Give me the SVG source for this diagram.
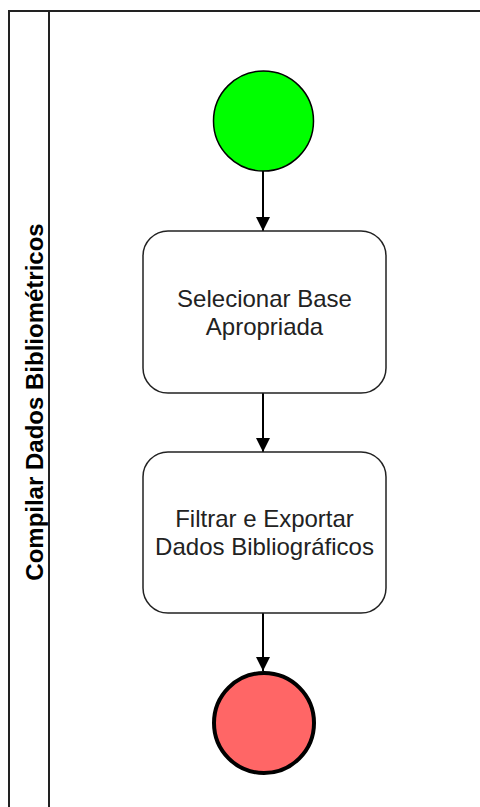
<svg xmlns="http://www.w3.org/2000/svg" width="480" height="807" viewBox="0 0 480 807">
  <defs>
    <marker id="arrow" viewBox="0 0 14 14" refX="14" refY="7" markerWidth="14" markerHeight="14" markerUnits="userSpaceOnUse" orient="auto">
      <path d="M0,0 L14,7 L0,14 Z" fill="#000"/>
    </marker>
  </defs>
  <style>
    .lane { fill: #fff; stroke: #222; stroke-width: 2; }
    .lane-title { font-family: "Liberation Sans", Arial, sans-serif; font-size: 24px; font-weight: bold; fill: #000; }
    .task { fill: #fff; stroke: #222; stroke-width: 1.5; }
    .label { font-family: "Liberation Sans", Arial, sans-serif; font-size: 24px; fill: #222; text-anchor: middle; }
    .flow { fill: none; stroke: #000; stroke-width: 2; marker-end: url(#arrow); }
  </style>
  <rect width="480" height="807" fill="#fff"/>

  <!-- Pool / lane -->
  <g id="lane">
    <rect class="lane" x="9" y="11" width="490" height="820"/>
    <line x1="49" y1="11" x2="49" y2="831" stroke="#222" stroke-width="2"/>
    <text class="lane-title" transform="translate(43,402) rotate(-90)" text-anchor="middle">Compilar Dados Bibliométricos</text>
  </g>

  <!-- Connectors -->
  <g id="connectors">
    <line class="flow" x1="263" y1="171" x2="263" y2="231"/>
    <line class="flow" x1="263" y1="393" x2="263" y2="452"/>
    <line class="flow" x1="263" y1="613" x2="263" y2="671"/>
  </g>

  <g id="start">
    <circle cx="263.5" cy="121" r="50" fill="#00ff00" stroke="#000" stroke-width="1.5"/>
  </g>

  <g id="task-select">
    <rect class="task" x="143" y="231" width="243" height="162" rx="25" ry="25"/>
    <text class="label" x="264.5" y="307">Selecionar Base</text>
    <text class="label" x="264.5" y="335">Apropriada</text>
  </g>

  <g id="task-filter">
    <rect class="task" x="143" y="452" width="243" height="161" rx="25" ry="25"/>
    <text class="label" x="264.5" y="527">Filtrar e Exportar</text>
    <text class="label" x="264.5" y="555">Dados Bibliográficos</text>
  </g>

  <g id="end">
    <circle cx="264" cy="723" r="50" fill="#ff6666" stroke="#000" stroke-width="4"/>
  </g>
</svg>
